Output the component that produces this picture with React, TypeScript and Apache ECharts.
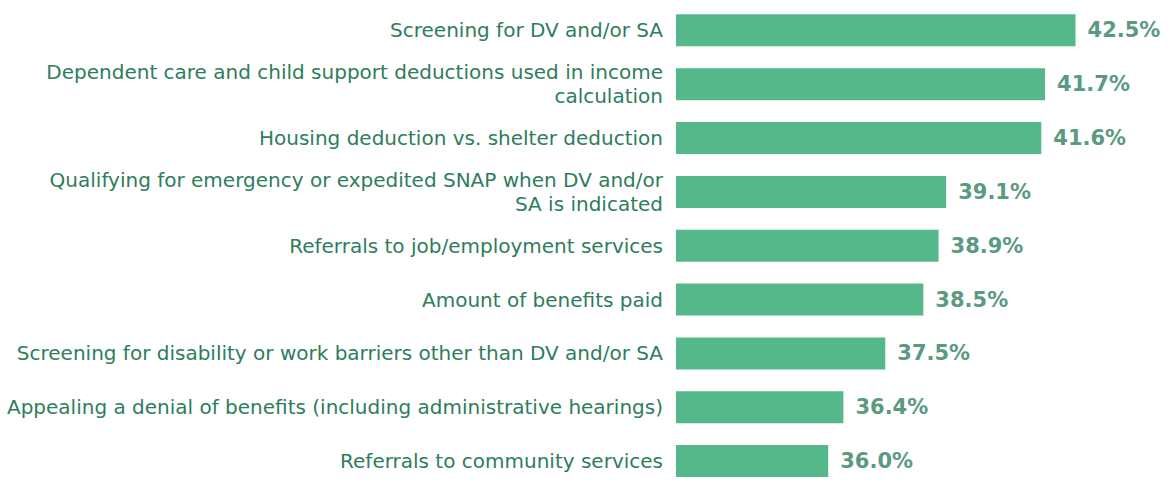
import React, { useEffect, useRef } from "react";
import * as echarts from "echarts";

const categories: string[] = [
  "Screening for DV and/or SA",
  "Dependent care and child support deductions used in income\ncalculation",
  "Housing deduction vs. shelter deduction",
  "Qualifying for emergency or expedited SNAP when DV and/or\nSA is indicated",
  "Referrals to job/employment services",
  "Amount of benefits paid",
  "Screening for disability or work barriers other than DV and/or SA",
  "Appealing a denial of benefits (including administrative hearings)",
  "Referrals to community services",
];

const values: number[] = [42.5, 41.7, 41.6, 39.1, 38.9, 38.5, 37.5, 36.4, 36.0];

const FONT = "DejaVu Sans";

export default function App() {
  const ref = useRef<HTMLDivElement>(null);
  useEffect(() => {
    if (!ref.current) return;
    const chart = echarts.init(ref.current, undefined, { renderer: "svg" });
    chart.setOption({
      animation: false,
      grid: { left: 676, right: 40.4, top: 3.45, height: 495.9, containLabel: false },
      xAxis: {
        type: "value",
        min: 32,
        max: 44,
        show: false,
      },
      yAxis: {
        type: "category",
        inverse: true,
        data: categories,
        axisLine: { show: false },
        axisTick: { show: false },
        splitLine: { show: false },
        axisLabel: {
          margin: 13,
          color: "#2e7d5b",
          fontFamily: FONT,
          fontSize: 20,
          lineHeight: 24,
          align: "right",
        },
      },
      series: [
        {
          type: "bar",
          data: values,
          barWidth: 32,
          itemStyle: { color: "#55b88b" },
          label: {
            show: true,
            position: "right",
            distance: 12,
            color: "#5a9a80",
            fontFamily: FONT,
            fontSize: 21,
            fontWeight: "bold",
            formatter: (p: any) => Number(p.value).toFixed(1) + "%",
          },
        },
      ],
    });
    return () => chart.dispose();
  }, []);
  return <div ref={ref} style={{ width: 1173, height: 488, position: "absolute", left: 0, top: 0 }} />;
}
